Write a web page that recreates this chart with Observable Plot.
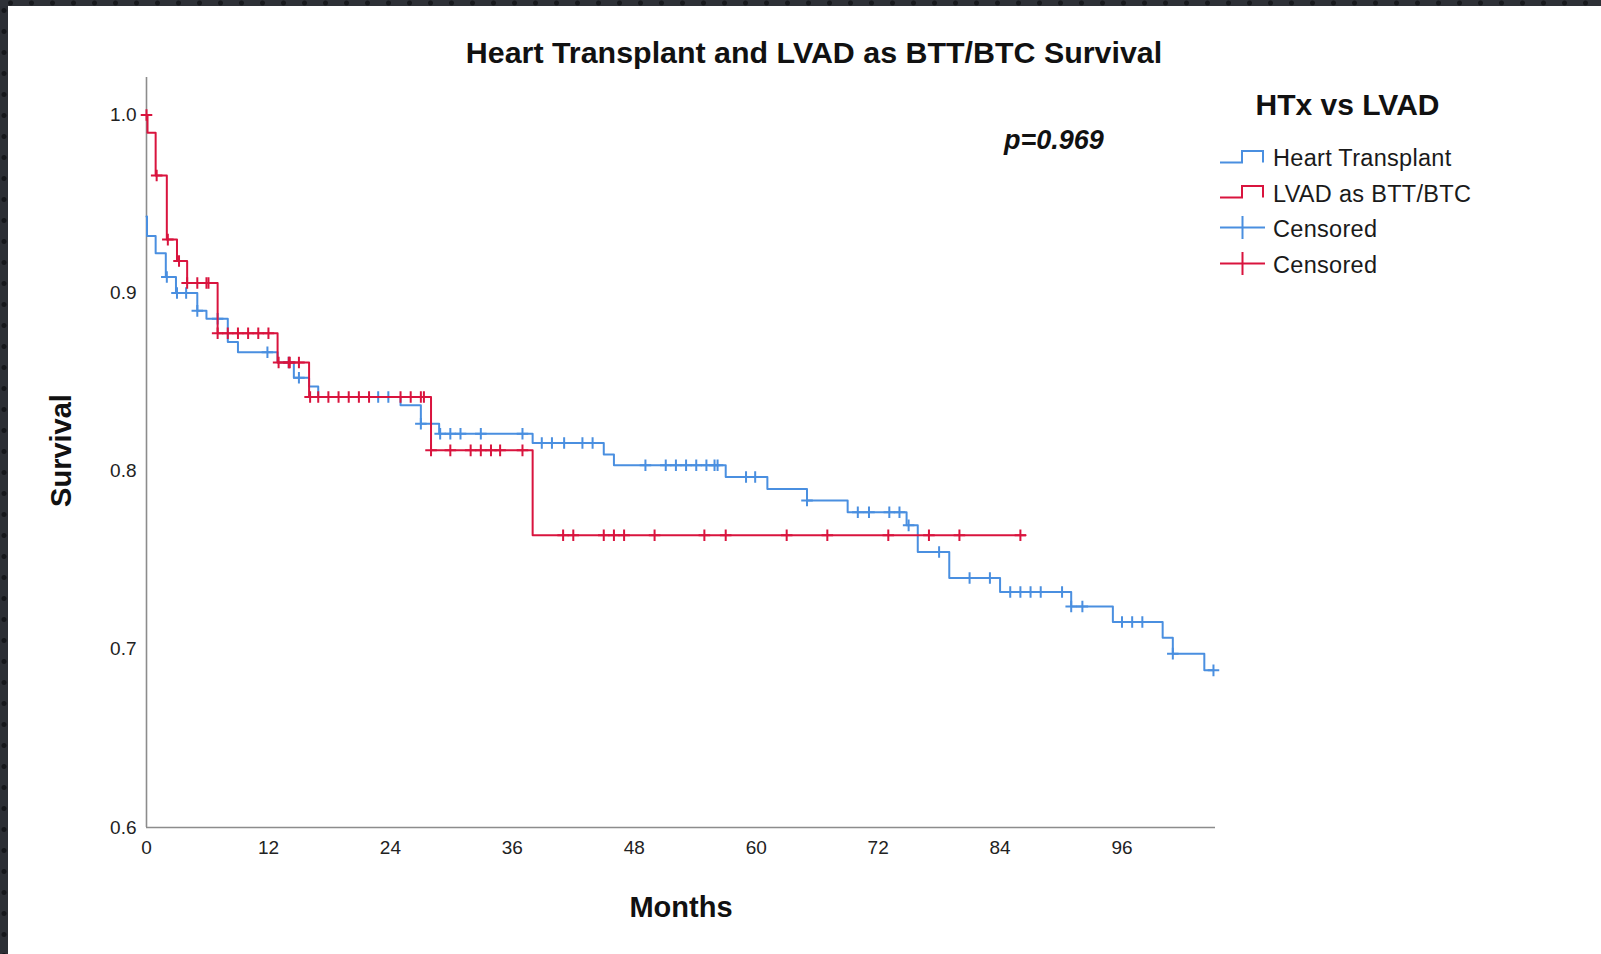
<!DOCTYPE html>
<html>
<head>
<meta charset="utf-8">
<script src="https://cdn.jsdelivr.net/npm/d3@7"></script>
<script src="https://cdn.jsdelivr.net/npm/@observablehq/plot@0.6"></script>
<style>
  html, body { margin: 0; padding: 0; background: #fff; overflow: hidden; }
  #wrap { position: relative; width: 1601px; height: 954px; font-family: "Liberation Sans", Arial, sans-serif; color: #111; }
  #chart { position: absolute; left: 0; top: 0; }
  .txt { position: absolute; white-space: nowrap; line-height: 1; }
  .border-left { position: absolute; left: 0; top: 0; width: 8px; height: 954px;
    background: #2c2f35 radial-gradient(circle, #15171b 2px, transparent 3px) 0 0 / 8px 21px; }
  .border-top { position: absolute; left: 0; top: 0; width: 1601px; height: 6px;
    background: #2e3137 radial-gradient(circle, #17191d 2px, transparent 3px) 0 0 / 21px 6px; }
</style>
</head>
<body>
<div id="wrap">
  <div id="chart"></div>
  <div class="txt" id="title" style="left:0; width:1628px; text-align:center; top:37px; font-size:30.4px; font-weight:bold;"></div>
  <div class="txt" id="pval" style="left:1004px; top:127px; font-size:27px; font-weight:bold; font-style:italic;"></div>
  <div class="txt" id="legtitle" style="left:1200px; width:295px; text-align:center; top:90px; font-size:30px; font-weight:bold;"></div>
  <div id="legend"></div>
  <div class="border-left"></div>
  <div class="border-top"></div>
</div>
<script>
// ---- Data ----
const titleText = "Heart Transplant and LVAD as BTT/BTC Survival";
const pValueText = "p=0.969";
const legendTitle = "HTx vs LVAD";
const xLabel = "Months";
const yLabel = "Survival";
const xTicks = [0, 12, 24, 36, 48, 60, 72, 84, 96];
const yTicks = [0.6, 0.7, 0.8, 0.9, 1.0];

const seriesNames = ["Heart Transplant", "LVAD as BTT/BTC"];
const seriesColors = ["#4a8fe0", "#d9143e"];

// Heart Transplant: step times (months) and survival after each step
const htTime = [0, 0.05, 0.9, 1.9, 2.9, 5.0, 5.9, 8.0, 9.0, 12.9, 14.5, 16.0, 16.9, 25.0, 27.0, 28.8, 38.0, 45.0, 46.0, 57.0, 61.1, 65.0, 69.0, 74.8, 75.9, 79.0, 84.0, 91.0, 95.1, 100.0, 101.0, 104.1, 105.0];
const htSurv = [0.943, 0.932, 0.9224, 0.909, 0.900, 0.890, 0.8856, 0.8725, 0.8668, 0.861, 0.8525, 0.8476, 0.8416, 0.837, 0.8266, 0.821, 0.8158, 0.8094, 0.8033, 0.7967, 0.790, 0.7836, 0.777, 0.7696, 0.7546, 0.740, 0.7322, 0.7241, 0.7153, 0.7065, 0.6976, 0.6882, 0.6882];
const htCensor = [2.0, 3.0, 3.9, 5.0, 7.0, 11.9, 14.0, 15.0, 22.8, 23.8, 27.0, 28.9, 29.9, 30.9, 32.9, 37.0, 38.9, 39.9, 41.1, 42.9, 43.9, 49.1, 51.1, 52.1, 53.1, 54.1, 55.1, 55.9, 56.2, 59.0, 59.9, 65.0, 70.0, 71.1, 73.1, 74.1, 75.0, 78.0, 81.0, 83.0, 85.0, 86.0, 87.0, 88.0, 90.1, 91.0, 92.1, 96.0, 97.0, 98.0, 101.0, 105.0];

// LVAD as BTT/BTC
const lvadTime = [0, 0.1, 0.9, 2.0, 3.0, 4.0, 7.0, 12.9, 16.0, 28.0, 38.0, 86.5];
const lvadSurv = [1.0, 0.990, 0.966, 0.930, 0.918, 0.9056, 0.8775, 0.861, 0.8416, 0.8117, 0.764, 0.764];
const lvadCensor = [0, 1.0, 2.1, 3.2, 4.0, 5.0, 5.9, 6.1, 7.0, 8.0, 9.0, 10.0, 11.0, 12.0, 13.0, 14.0, 14.1, 15.0, 16.1, 16.9, 17.9, 18.9, 19.9, 20.9, 21.9, 25.0, 26.0, 27.0, 27.3, 28.0, 29.9, 31.9, 32.9, 33.9, 34.8, 37.0, 41.0, 42.0, 45.0, 46.0, 47.0, 50.0, 54.9, 57.0, 63.0, 67.0, 73.0, 77.0, 80.0, 86.0];

// ---- Build tables ----
function steps(times, surv, name) { return times.map((t, i) => ({t, s: surv[i], name})); }
function survAt(times, surv, t) { let v = surv[0]; for (let i = 0; i < times.length; i++) if (times[i] <= t) v = surv[i]; return v; }
const htLine = steps(htTime, htSurv, seriesNames[0]);
const lvLine = steps(lvadTime, lvadSurv, seriesNames[1]);
const htC = htCensor.map(t => ({t, s: survAt(htTime, htSurv, t)}));
const lvC = lvadCensor.map(t => ({t, s: survAt(lvadTime, lvadSurv, t)}));

const font = "Liberation Sans, Arial, sans-serif";
const axisGray = "#8c8c8c";

const chart = Plot.plot({
  width: 1601,
  height: 954,
  marginLeft: 146,
  marginRight: 386,
  marginTop: 77,
  marginBottom: 127,
  style: {background: "white", fontFamily: font, color: "#222"},
  x: {domain: [0, 105.2], axis: null},
  y: {domain: [0.6, 1.021], axis: null},
  marks: [
    Plot.axisX({ticks: xTicks, tickSize: 0, tickPadding: 13, fontSize: 19, label: null, tickFormat: d => String(d)}),
    Plot.axisY({ticks: yTicks, tickSize: 0, tickPadding: 10, fontSize: 19, label: null, tickFormat: d3.format(".1f")}),
    Plot.ruleX([0], {stroke: axisGray, strokeWidth: 1.6}),
    Plot.ruleY([0.6], {stroke: axisGray, strokeWidth: 1.6}),
    Plot.line(htLine, {x: "t", y: "s", curve: "step-after", stroke: seriesColors[0], strokeWidth: 2}),
    Plot.dot(htC, {x: "t", y: "s", symbol: "plus", r: 3.8, stroke: seriesColors[0], strokeWidth: 2}),
    Plot.line(lvLine, {x: "t", y: "s", curve: "step-after", stroke: seriesColors[1], strokeWidth: 2}),
    Plot.dot(lvC, {x: "t", y: "s", symbol: "plus", r: 3.8, stroke: seriesColors[1], strokeWidth: 2}),
    Plot.text([xLabel], {frameAnchor: "bottom", dy: 80, textAnchor: "middle", lineAnchor: "middle", fontSize: 29, fontWeight: "bold", fill: "#111"}),
    Plot.text([yLabel], {frameAnchor: "left", dx: -85, dy: -2, rotate: -90, textAnchor: "middle", lineAnchor: "middle", fontSize: 29, fontWeight: "bold", fill: "#111"})
  ]
});
document.getElementById("chart").appendChild(chart);

document.getElementById("title").textContent = titleText;
document.getElementById("pval").textContent = pValueText;
document.getElementById("legtitle").textContent = legendTitle;

// ---- Legend ----
const legend = document.getElementById("legend");
const legendRows = [
  {label: seriesNames[0], color: seriesColors[0], kind: "step"},
  {label: seriesNames[1], color: seriesColors[1], kind: "step"},
  {label: "Censored", color: seriesColors[0], kind: "cross"},
  {label: "Censored", color: seriesColors[1], kind: "cross"}
];
const rowCenters = [158.5, 194, 229.8, 265.5];
legendRows.forEach((r, i) => {
  const c = rowCenters[i];
  const svgNS = "http://www.w3.org/2000/svg";
  const svg = document.createElementNS(svgNS, "svg");
  svg.setAttribute("width", 50); svg.setAttribute("height", 30);
  svg.style.position = "absolute"; svg.style.left = "1218px"; svg.style.top = (c - 16) + "px";
  const p = document.createElementNS(svgNS, "path");
  if (r.kind === "step") p.setAttribute("d", "M2,19.5 H24 V8 H45 V19.5");
  else p.setAttribute("d", "M2,13.5 H47 M24.5,2 V25");
  p.setAttribute("fill", "none"); p.setAttribute("stroke", r.color); p.setAttribute("stroke-width", 2);
  svg.appendChild(p);
  legend.appendChild(svg);
  const t = document.createElement("div");
  t.className = "txt";
  t.style.left = "1273px"; t.style.top = (c - 11.5) + "px"; t.style.fontSize = "23.5px"; t.style.color = "#1a1a1a";
  t.style.letterSpacing = "0.3px";
  t.textContent = r.label;
  legend.appendChild(t);
});
</script>
</body>
</html>
